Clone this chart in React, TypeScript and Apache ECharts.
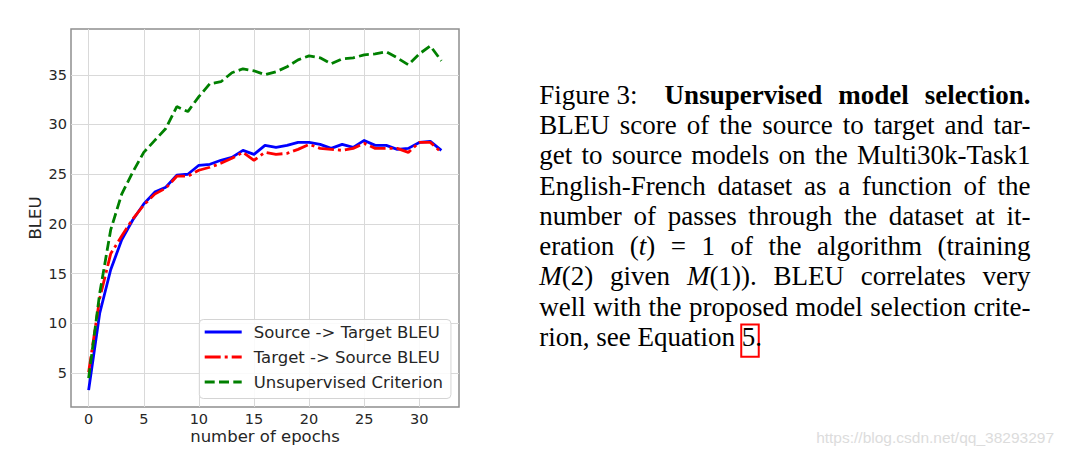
import React, { useEffect, useRef } from "react";
import * as echarts from "echarts";

// ---------- data ----------
const epochs = [0, 1, 2, 3, 4, 5, 6, 7, 8, 9, 10, 11, 12, 13, 14, 15, 16, 17, 18, 19, 20, 21, 22, 23, 24, 25, 26, 27, 28, 29, 30, 31, 32];
const sourceToTarget = [3.3, 11.0, 15.4, 18.4, 20.4, 22.0, 23.2, 23.7, 24.9, 25.0, 25.9, 26.0, 26.4, 26.7, 27.4, 27.0, 27.9, 27.7, 27.9, 28.2, 28.2, 28.0, 27.6, 28.0, 27.7, 28.4, 27.9, 27.9, 27.5, 27.6, 28.2, 28.3, 27.4];
const targetToSource = [5.1, 12.5, 17.0, 18.8, 20.5, 21.9, 23.0, 23.6, 24.8, 24.8, 25.4, 25.7, 26.1, 26.6, 27.2, 26.4, 27.2, 27.0, 27.1, 27.5, 28.0, 27.6, 27.5, 27.4, 27.6, 28.1, 27.6, 27.6, 27.6, 27.2, 28.2, 28.2, 27.2];
const unsupervised = [4.5, 13.0, 19.4, 23.0, 25.2, 27.2, 28.4, 29.6, 31.8, 31.3, 32.8, 34.1, 34.3, 35.2, 35.6, 35.4, 35.0, 35.3, 35.8, 36.5, 36.9, 36.7, 36.1, 36.6, 36.7, 37.0, 37.1, 37.3, 36.7, 36.0, 37.1, 37.9, 36.4];
const seriesNames = ["Source -> Target BLEU", "Target -> Source BLEU", "Unsupervised Criterion"];
const xAxisTitle = "number of epochs";
const yAxisTitle = "BLEU";

// caption: lines -> words -> segments [text, kind]
type Seg = [string, "n" | "b" | "i"];
const captionLines: Seg[][][] = [
  [[["Figure 3:", "n"]], [["Unsupervised", "b"]], [["model", "b"]], [["selection.", "b"]]],
  "BLEU score of the source to target and tar-".split(" ").map((w) => [[w, "n"] as Seg]),
  "get to source models on the Multi30k-Task1".split(" ").map((w) => [[w, "n"] as Seg]),
  "English-French dataset as a function of the".split(" ").map((w) => [[w, "n"] as Seg]),
  "number of passes through the dataset at it-".split(" ").map((w) => [[w, "n"] as Seg]),
  [[["eration", "n"]], [["(", "n"], ["t", "i"], [")", "n"]], [["=", "n"]], [["1", "n"]], [["of", "n"]], [["the", "n"]], [["algorithm", "n"]], [["(training", "n"]]],
  [[["M", "i"], ["(2)", "n"]], [["given", "n"]], [["M", "i"], ["(1)).", "n"]], [["BLEU", "n"]], [["correlates", "n"]], [["very", "n"]]],
  "well with the proposed model selection crite-".split(" ").map((w) => [[w, "n"] as Seg]),
  "rion, see Equation 5.".split(" ").map((w) => [[w, "n"] as Seg]),
];
const watermark = "https://blog.csdn.net/qq_38293297";

export default function App() {
  const ref = useRef<HTMLDivElement>(null);

  useEffect(() => {
    if (!ref.current) return;
    const chart = echarts.init(ref.current, null, { renderer: "svg" });

    const canvas = document.createElement("canvas");
    const ctx = canvas.getContext("2d")!;
    const CAP_FAMILY = '"Liberation Serif"';
    const CAP_SIZE = 27;
    const fontOf = (k: string) =>
      `${k === "i" ? "italic" : "normal"} normal ${k === "b" ? "bold" : "normal"} ${CAP_SIZE}px ${CAP_FAMILY}`;
    const measure = (t: string, k: string) => {
      ctx.font = fontOf(k);
      return ctx.measureText(t).width;
    };
    const wordWidth = (w: Seg[]) => w.reduce((s, [t, k]) => s + measure(t, k), 0);

    const capLeft = 539.3;
    const capRight = 1030.5;
    const baselines = [104.3, 134.3, 164.5, 194.7, 225.0, 255.2, 285.5, 315.8, 346.2];
    const centralOffset = 0.3375 * CAP_SIZE;
    const graphics: any[] = [];

    captionLines.forEach((words, li) => {
      const widths = words.map(wordWidth);
      const total = widths.reduce((a, b) => a + b, 0);
      const last = li === captionLines.length - 1;
      const extraFirst = li === 0 ? 11 : 0;
      const gap = last
        ? measure(" ", "n")
        : (capRight - capLeft - total - extraFirst) / (words.length - 1);
      let x = capLeft;
      const y = baselines[li] - centralOffset;
      words.forEach((w, wi) => {
        let sx = x;
        w.forEach(([t, k]) => {
          if (last && t === "5.") {
            const w5 = measure("5", "n");
            graphics.push({
              type: "rect",
              shape: { x: sx - 0.5, y: baselines[li] - 21.7, width: w5 + 4, height: 32.3 },
              style: { fill: "none", stroke: "#ff0000", lineWidth: 2 },
              silent: true,
            });
          }
          graphics.push({
            type: "text",
            x: sx,
            y,
            silent: true,
            style: {
              text: t,
              fontSize: CAP_SIZE,
              fontFamily: "Liberation Serif",
              fontWeight: k === "b" ? "bold" : "normal",
              fontStyle: k === "i" ? "italic" : "normal",
              fill: "#000000",
              textAlign: "left",
              textVerticalAlign: "middle",
              align: "left",
              verticalAlign: "middle",
            },
          });
          sx += measure(t, k);
        });
        x += widths[wi] + gap + (wi === 0 ? extraFirst : 0);
      });
    });

    graphics.push({
      type: "text",
      x: 1054,
      y: 437,
      silent: true,
      style: {
        text: watermark,
        fontSize: 15.5,
        fontFamily: "Liberation Sans",
        fill: "#dcdcdc",
        textAlign: "right",
        textVerticalAlign: "middle",
        align: "right",
        verticalAlign: "middle",
      },
    });

    const pairs = (ys: number[]) => epochs.map((e, i) => [e, ys[i]]);
    const tickColor = "#262626";
    const LW = 2.8;

    chart.setOption({
      animation: false,
      backgroundColor: "#ffffff",
      textStyle: { fontFamily: "DejaVu Sans" },
      grid: {
        left: 71,
        top: 29,
        width: 388,
        height: 378,
        show: true,
        borderColor: "#8f8f8f",
        borderWidth: 1.5,
        backgroundColor: "transparent",
      },
      xAxis: {
        type: "value",
        min: -1.6,
        max: 33.6,
        splitNumber: 7,
        name: xAxisTitle,
        nameLocation: "middle",
        nameGap: 21,
        nameMoveOverlap: false,
        nameTextStyle: { fontSize: 16.5, color: tickColor, fontFamily: "DejaVu Sans" },
        axisLine: { show: false },
        axisTick: { show: false },
        axisLabel: {
          showMinLabel: false,
          showMaxLabel: false,
          fontSize: 14.5,
          color: tickColor,
          margin: 4,
          fontFamily: "DejaVu Sans",
        },
        splitLine: {
          show: true,
          showMinLine: false,
          showMaxLine: false,
          lineStyle: { color: "#d9d9d9", width: 1 },
        },
      },
      yAxis: {
        type: "value",
        min: 1.6,
        max: 39.6,
        splitNumber: 8,
        name: yAxisTitle,
        nameLocation: "middle",
        nameGap: 27,
        nameMoveOverlap: false,
        nameTextStyle: { fontSize: 16.5, color: tickColor, fontFamily: "DejaVu Sans" },
        axisLine: { show: false },
        axisTick: { show: false },
        axisLabel: {
          showMinLabel: false,
          showMaxLabel: false,
          fontSize: 14.5,
          color: tickColor,
          margin: 4,
          fontFamily: "DejaVu Sans",
        },
        splitLine: {
          show: true,
          showMinLine: false,
          showMaxLine: false,
          lineStyle: { color: "#d9d9d9", width: 1 },
        },
      },
      legend: {
        orient: "vertical",
        left: 199.3,
        top: 319.5,
        data: seriesNames,
        itemWidth: 37,
        itemHeight: 14,
        itemGap: 6,
        padding: [3, 8, 7, 4],
        backgroundColor: "rgba(255,255,255,0.85)",
        borderColor: "#d4d4d4",
        borderWidth: 1,
        borderRadius: 4,
        itemStyle: { color: "rgba(0,0,0,0)", borderWidth: 0, opacity: 0 },
        lineStyle: { width: LW },
        textStyle: {
          fontSize: 16.5,
          color: tickColor,
          lineHeight: 19,
          padding: [0, 0, 0, 7],
          fontFamily: "DejaVu Sans",
        },
      },
      series: [
        {
          type: "line",
          name: seriesNames[0],
          data: pairs(sourceToTarget),
          symbol: "none",
          showSymbol: false,
          color: "#0000ff",
          lineStyle: { color: "#0000ff", width: LW, join: "round" },
        },
        {
          type: "line",
          name: seriesNames[1],
          data: pairs(targetToSource),
          symbol: "none",
          showSymbol: false,
          color: "#ff0000",
          lineStyle: { color: "#ff0000", width: LW, type: [16, 4, 3, 4] },
        },
        {
          type: "line",
          name: seriesNames[2],
          data: pairs(unsupervised),
          symbol: "none",
          showSymbol: false,
          color: "#008000",
          lineStyle: { color: "#008000", width: LW, type: [10, 4.3] },
        },
      ],
      graphic: graphics,
    });

    return () => chart.dispose();
  }, []);

  return (
    <div
      ref={ref}
      style={{ position: "absolute", left: 0, top: 0, width: 1065, height: 456, background: "#ffffff" }}
    />
  );
}
